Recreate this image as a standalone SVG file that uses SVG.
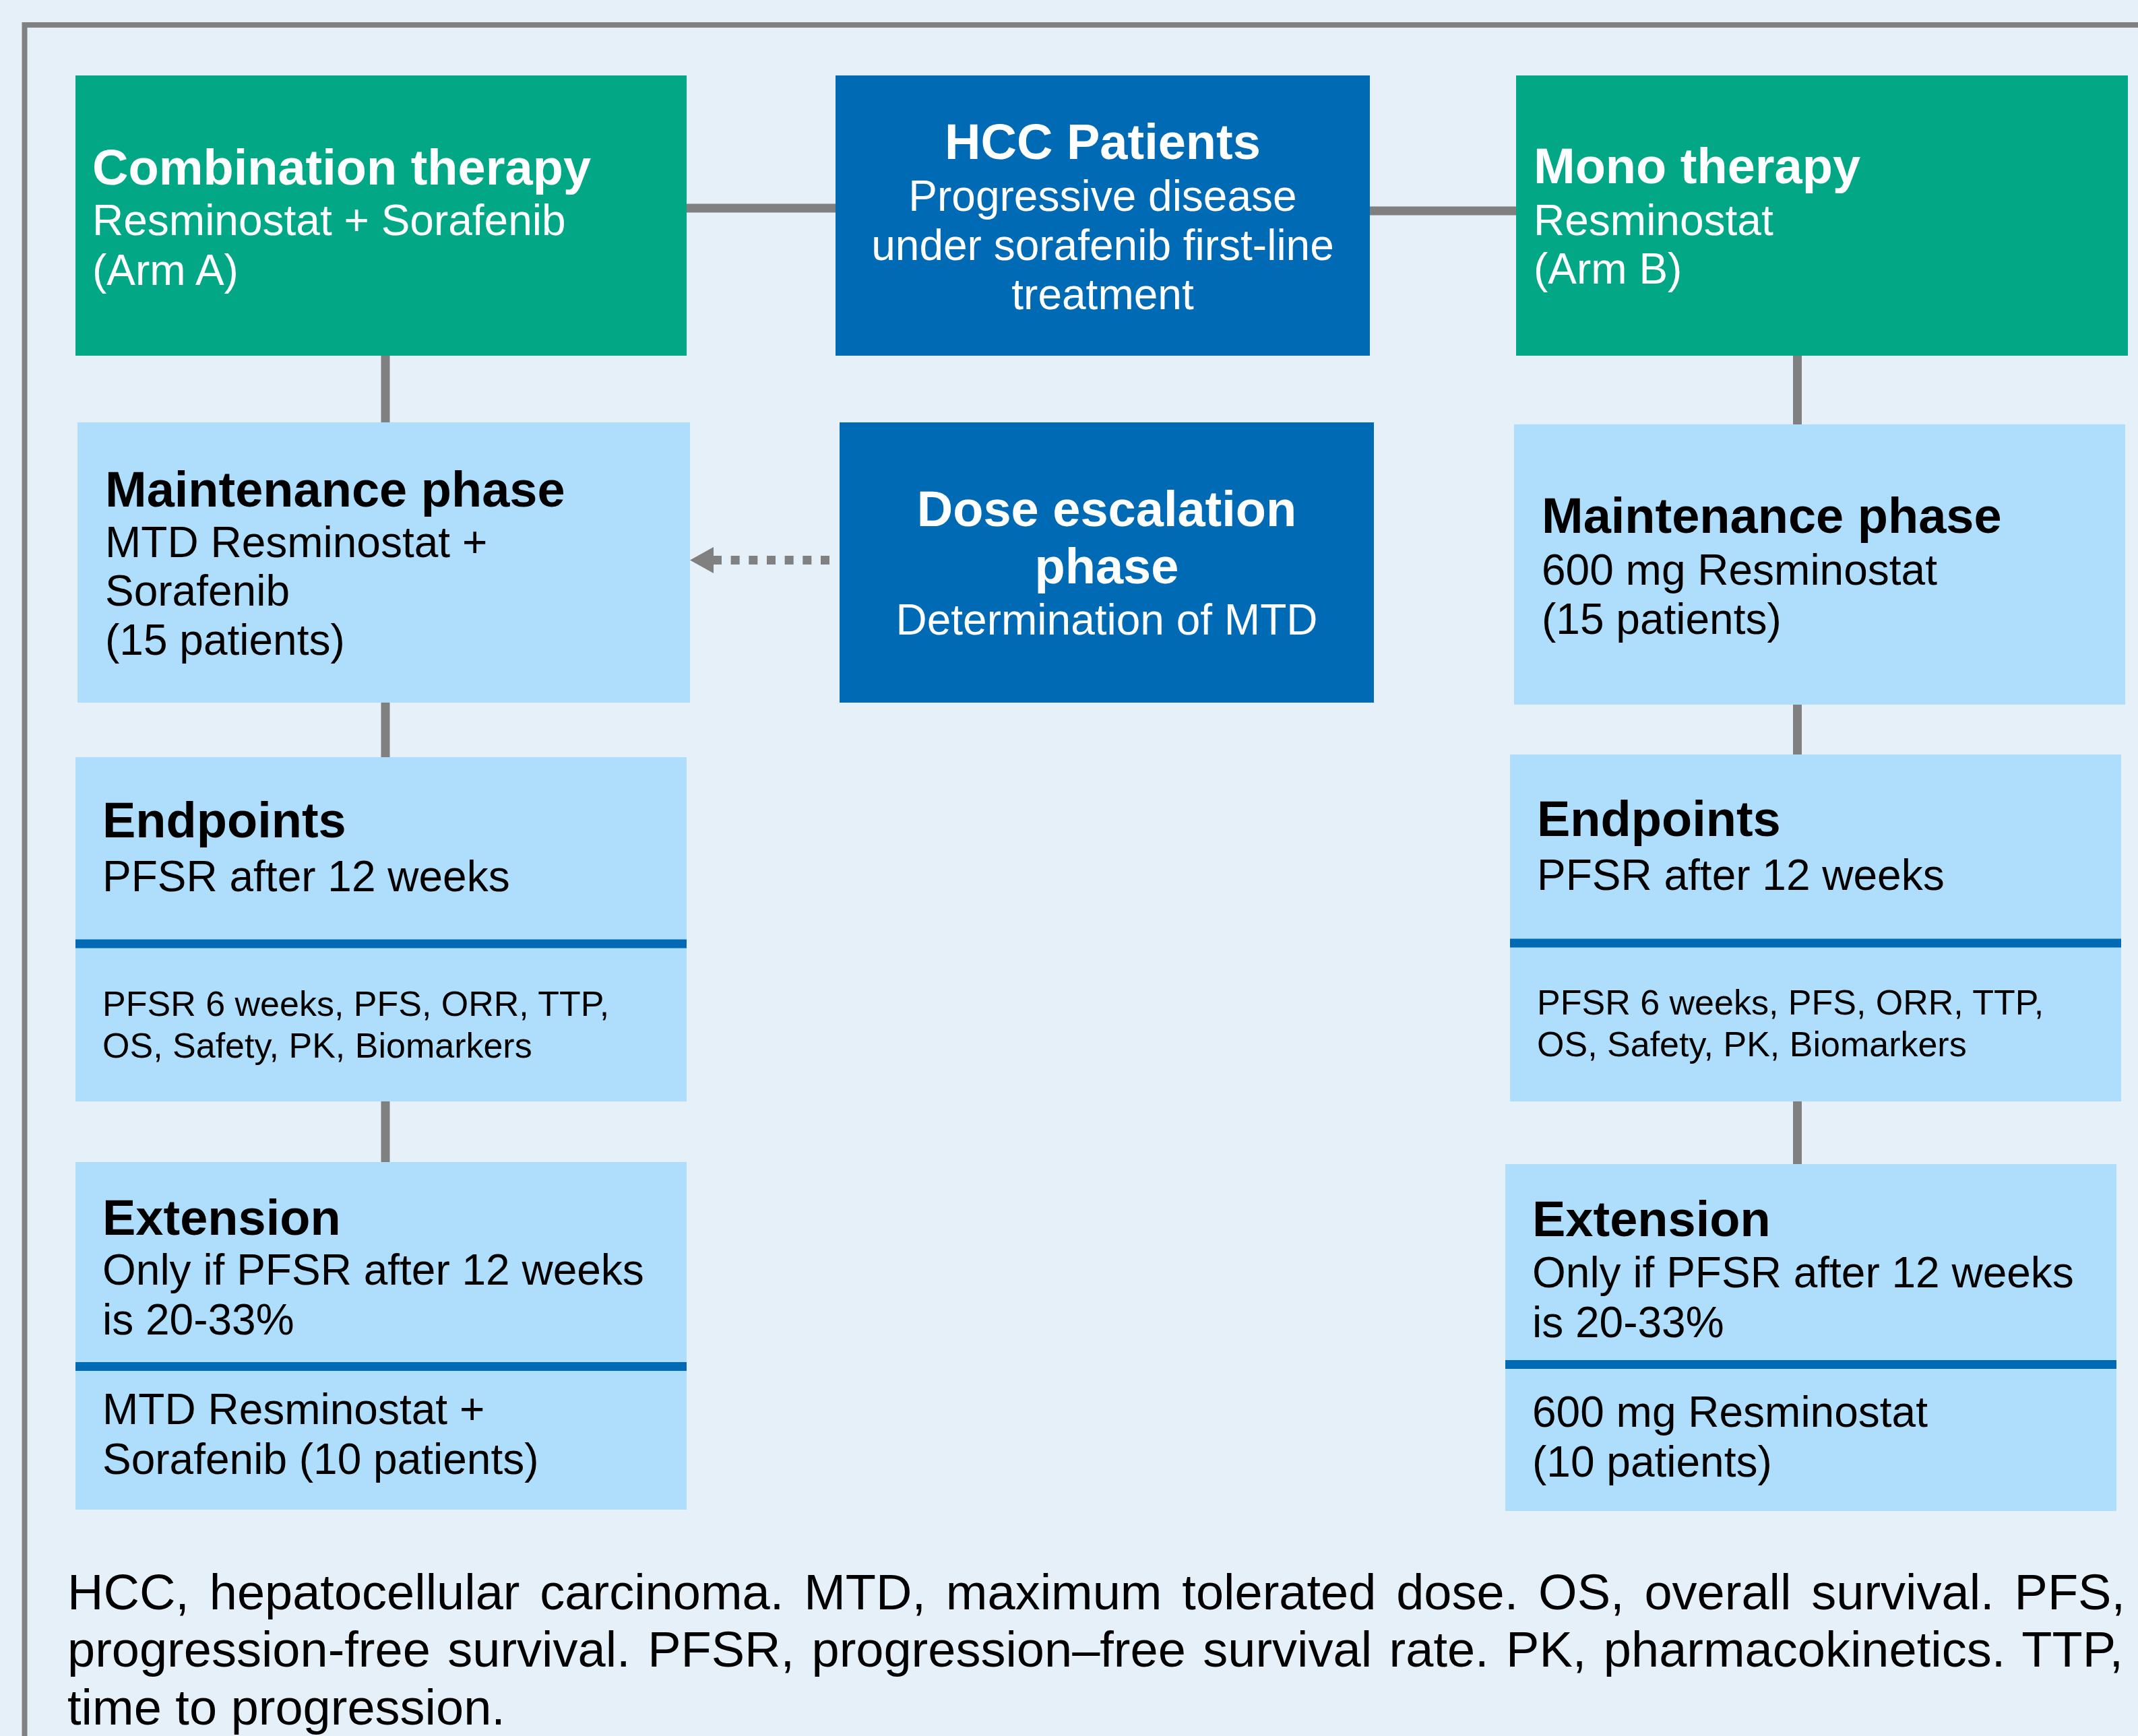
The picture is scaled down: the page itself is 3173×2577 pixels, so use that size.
<svg xmlns="http://www.w3.org/2000/svg" width="3173" height="2577" viewBox="0 0 3173 2577">
<style>
  text { font-family: "Liberation Sans", Arial, sans-serif; }
  .green { fill: #02a886; }
  .dark { fill: #006ab5; }
  .light { fill: #afdefc; }
  .sep { fill: #006ab5; }
  .conn { stroke: #808080; stroke-width: 13; fill: none; }
  .dash { stroke: #808080; stroke-width: 13; fill: none; stroke-dasharray: 13 13.67; }
  .tw { fill: #ffffff; font-weight: bold; font-size: 74px; }
  .sw { fill: #ffffff; font-size: 64px; }
  .tb { fill: #000000; font-weight: bold; font-size: 74px; }
  .sb { fill: #000000; font-size: 64px; }
  .small { fill: #000000; font-size: 52px; }
  .foot { fill: #000000; font-size: 74px; }
  .mid { text-anchor: middle; }
</style>
<defs>
  <marker id="arrow" markerUnits="userSpaceOnUse" markerWidth="36" markerHeight="40" viewBox="0 -20 36 40" refX="0" refY="0" orient="auto">
    <path d="M0,-19.5 L35,0 L0,19.5 Z" fill="#808080"/>
  </marker>
</defs>
<rect x="0" y="0" width="3173" height="2577" fill="#e5f0f9"/>
<path d="M36.5,2577 V37 H3173" stroke="#808080" stroke-width="8" fill="none"/>

<g id="connectors">
  <line class="conn" x1="1019" y1="309" x2="1240" y2="309"/>
  <line class="conn" x1="2033" y1="313" x2="2250" y2="313"/>
  <line class="conn" x1="572" y1="528" x2="572" y2="627"/>
  <line class="conn" x1="572" y1="1043" x2="572" y2="1124"/>
  <line class="conn" x1="572" y1="1635" x2="572" y2="1725"/>
  <line class="conn" x1="2667.5" y1="528" x2="2667.5" y2="630"/>
  <line class="conn" x1="2667.5" y1="1046" x2="2667.5" y2="1120"/>
  <line class="conn" x1="2667.5" y1="1635" x2="2667.5" y2="1728"/>
  <line class="dash" x1="1231" y1="831.5" x2="1059" y2="831.5" marker-end="url(#arrow)"/>
</g>

<g id="combination">
  <rect class="green" x="112" y="112" width="907" height="416"/>
  <text class="tw" x="137" y="274">Combination therapy</text>
  <text class="sw" x="137" y="349">Resminostat + Sorafenib</text>
  <text class="sw" x="137" y="423">(Arm A)</text>
</g>

<g id="hcc">
  <rect class="dark" x="1240" y="112" width="793" height="416"/>
  <text class="tw mid" x="1636.5" y="236">HCC Patients</text>
  <text class="sw mid" x="1636.5" y="313">Progressive disease</text>
  <text class="sw mid" x="1636.5" y="386">under sorafenib first-line</text>
  <text class="sw mid" x="1636.5" y="459">treatment</text>
</g>

<g id="mono">
  <rect class="green" x="2250" y="112" width="908" height="416"/>
  <text class="tw" x="2276" y="272">Mono therapy</text>
  <text class="sw" x="2276" y="349">Resminostat</text>
  <text class="sw" x="2276" y="421">(Arm B)</text>
</g>

<g id="maintenance-a">
  <rect class="light" x="115" y="627" width="909" height="416"/>
  <text class="tb" x="156" y="752">Maintenance phase</text>
  <text class="sb" x="156" y="827">MTD Resminostat +</text>
  <text class="sb" x="156" y="899">Sorafenib</text>
  <text class="sb" x="156" y="972">(15 patients)</text>
</g>

<g id="dose-escalation">
  <rect class="dark" x="1246" y="627" width="793" height="416"/>
  <text class="tw mid" x="1642.5" y="781">Dose escalation</text>
  <text class="tw mid" x="1642.5" y="866">phase</text>
  <text class="sw mid" x="1642.5" y="942">Determination of MTD</text>
</g>

<g id="maintenance-b">
  <rect class="light" x="2247" y="630" width="907" height="416"/>
  <text class="tb" x="2288" y="791">Maintenance phase</text>
  <text class="sb" x="2288" y="868">600 mg Resminostat</text>
  <text class="sb" x="2288" y="941">(15 patients)</text>
</g>

<g id="endpoints-a">
  <rect class="light" x="112" y="1124" width="907" height="511"/>
  <rect class="sep" x="112" y="1394.5" width="907" height="13"/>
  <text class="tb" x="152" y="1243">Endpoints</text>
  <text class="sb" x="152" y="1323">PFSR after 12 weeks</text>
  <text class="small" x="152" y="1508">PFSR 6 weeks, PFS, ORR, TTP,</text>
  <text class="small" x="152" y="1570">OS, Safety, PK, Biomarkers</text>
</g>

<g id="endpoints-b">
  <rect class="light" x="2241" y="1120" width="907" height="515"/>
  <rect class="sep" x="2241" y="1393.5" width="907" height="13"/>
  <text class="tb" x="2281" y="1241">Endpoints</text>
  <text class="sb" x="2281" y="1321">PFSR after 12 weeks</text>
  <text class="small" x="2281" y="1506">PFSR 6 weeks, PFS, ORR, TTP,</text>
  <text class="small" x="2281" y="1568">OS, Safety, PK, Biomarkers</text>
</g>

<g id="extension-a">
  <rect class="light" x="112" y="1725" width="907" height="516"/>
  <rect class="sep" x="112" y="2022" width="907" height="13"/>
  <text class="tb" x="152" y="1833">Extension</text>
  <text class="sb" x="152" y="1907">Only if PFSR after 12 weeks</text>
  <text class="sb" x="152" y="1981">is 20-33%</text>
  <text class="sb" x="152" y="2114">MTD Resminostat +</text>
  <text class="sb" x="152" y="2188">Sorafenib (10 patients)</text>
</g>

<g id="extension-b">
  <rect class="light" x="2234" y="1728" width="907" height="515"/>
  <rect class="sep" x="2234" y="2019" width="907" height="13"/>
  <text class="tb" x="2274" y="1835">Extension</text>
  <text class="sb" x="2274" y="1911">Only if PFSR after 12 weeks</text>
  <text class="sb" x="2274" y="1985">is 20-33%</text>
  <text class="sb" x="2274" y="2118">600 mg Resminostat</text>
  <text class="sb" x="2274" y="2192">(10 patients)</text>
</g>

<g id="footnote">
  <text class="foot" x="100" y="2389" word-spacing="9.3">HCC, hepatocellular carcinoma. MTD, maximum tolerated dose. OS, overall survival. PFS,</text>
  <text class="foot" x="100" y="2474" word-spacing="4.9">progression-free survival. PFSR, progression–free survival rate. PK, pharmacokinetics. TTP,</text>
  <text class="foot" x="100" y="2560">time to progression.</text>
</g>
</svg>
